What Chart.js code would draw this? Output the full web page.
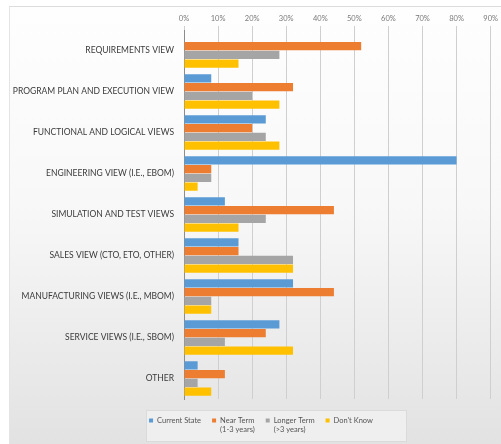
<!DOCTYPE html>
<html>
<head>
<meta charset="utf-8">
<script src="https://cdn.jsdelivr.net/npm/chart.js@4/dist/chart.umd.min.js"></script>
<style>
  html, body { margin: 0; padding: 0; background: #fff; }
  #wrap { position: relative; width: 501px; height: 444px; overflow: hidden; background: #fff; }
  #panel {
    position: absolute; left: 9px; top: 6px; right: -2px; bottom: -2px;
    border-top: 1px solid #dcdcdc; border-left: 1px solid #e4e4e4;
    background: linear-gradient(to bottom, #fefefe 0%, #f8f8f8 45%, #ececec 75%, #e2e2e2 100%);
  }
  canvas { position: absolute; left: 0; top: 0; }
</style>
</head>
<body>
<div id="wrap">
  <div id="panel"></div>
  <canvas id="chart" width="501" height="444"></canvas>
</div>
<script>
// categories, top to bottom
const categories = [
  'REQUIREMENTS VIEW',
  'PROGRAM PLAN AND EXECUTION VIEW',
  'FUNCTIONAL AND LOGICAL VIEWS',
  'ENGINEERING VIEW (I.E., EBOM)',
  'SIMULATION AND TEST VIEWS',
  'SALES VIEW (CTO, ETO, OTHER)',
  'MANUFACTURING VIEWS (I.E., MBOM)',
  'SERVICE VIEWS (I.E., SBOM)',
  'OTHER'
];

// percent of respondents
const currentState = [0, 8, 24, 80, 12, 16, 32, 28, 4];
const nearTerm     = [52, 32, 20, 8, 44, 16, 44, 24, 12];
const longerTerm   = [28, 20, 24, 8, 24, 32, 8, 12, 4];
const dontKnow     = [16, 28, 28, 4, 16, 32, 8, 32, 8];

const seriesLabels = [
  ['Current State'],
  ['Near Term', '(1-3 years)'],
  ['Longer Term', '(>3 years)'],
  ["Don't Know"]
];
const seriesColors = ['#5b9bd5', '#ed7d31', '#a5a5a5', '#ffc000'];

const xTicks = [0, 10, 20, 30, 40, 50, 60, 70, 80, 90];

const FONT = 'Lato, "Open Sans", sans-serif';

// legend drawn under the plot, inside a light frame
const bottomLegend = {
  id: 'bottomLegend',
  afterDraw(chart) {
    const ctx = chart.ctx;
    const size = 7.5, line = 8.5, box = 4, gap = 4, itemGap = 11;
    ctx.save();
    ctx.font = size + 'px ' + FONT;
    const widths = seriesLabels.map(lines =>
      box + gap + Math.max(...lines.map(s => ctx.measureText(s).width)));
    const total = widths.reduce((a, b) => a + b, 0) + itemGap * (widths.length - 1);
    const cx = 261;
    const top = chart.chartArea.bottom + 22;
    let x = cx - total / 2;

    ctx.fillStyle = 'rgba(240,240,240,0.9)';
    ctx.fillRect(x - 3, top - 11, total + 36, 31);
    ctx.strokeStyle = '#dadada';
    ctx.lineWidth = 1;
    ctx.strokeRect(Math.round(x - 3) + 0.5, Math.round(top - 11) + 0.5, Math.round(total + 36), 31);

    ctx.textBaseline = 'middle';
    ctx.textAlign = 'left';
    seriesLabels.forEach((lines, i) => {
      ctx.fillStyle = seriesColors[i];
      ctx.fillRect(x, top - box / 2 - 0.5, box, box);
      ctx.fillStyle = '#555';
      lines.forEach((s, k) => ctx.fillText(s, x + box + gap, top + k * line));
      x += widths[i] + itemGap;
    });
    ctx.restore();
  }
};

const datasets = [currentState, nearTerm, longerTerm, dontKnow].map((vals, i) => ({
  label: seriesLabels[i].join(' '),
  data: vals,
  backgroundColor: seriesColors[i],
  borderWidth: 0,
  categoryPercentage: 0.86,
  barPercentage: 0.94
}));

new Chart(document.getElementById('chart'), {
  type: 'bar',
  data: { labels: categories, datasets: datasets },
  plugins: [bottomLegend],
  options: {
    indexAxis: 'y',
    responsive: false,
    devicePixelRatio: 1,
    animation: false,
    layout: { padding: { left: 0, right: 0, top: 0, bottom: 45 } },
    plugins: {
      tooltip: { enabled: false },
      legend: { display: false }
    },
    scales: {
      x: {
        position: 'top',
        min: 0,
        max: 90,
        afterBuildTicks(scale) { scale.ticks = xTicks.map(v => ({ value: v })); },
        afterFit(scale) { scale.height = 30; },
        ticks: {
          color: '#7a7a7a',
          padding: 3,
          font: { family: FONT, size: 7.5 },
          callback: v => v + '%'
        },
        grid: { color: '#cfcfcf', tickLength: 4, drawOnChartArea: true },
        border: { display: false }
      },
      y: {
        afterFit(scale) { scale.width = 184; },
        ticks: {
          color: '#3a3a3a',
          padding: 10,
          font: { family: FONT, size: 8.5 }
        },
        grid: { display: false, drawTicks: false },
        border: { display: true, color: '#8c8c8c', width: 1 }
      }
    }
  }
});
</script>
</body>
</html>
